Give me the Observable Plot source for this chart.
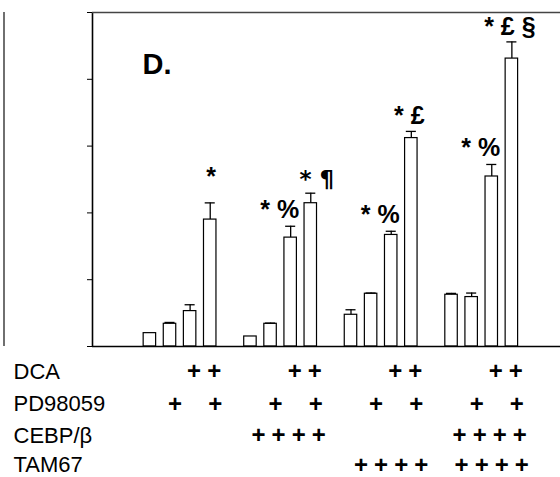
<!DOCTYPE html>
<html><head><meta charset="utf-8">
<script src="https://cdn.jsdelivr.net/npm/d3@7"></script>
<script src="https://cdn.jsdelivr.net/npm/@observablehq/plot@0.6"></script>
<style>
html,body{margin:0;padding:0;background:#fff;}
</style>
</head><body><div id="chart"></div>
<script>
// ---- data ----
const groups = ["Control", "CEBP/β", "TAM67", "CEBP/β + TAM67"];
const conditions = ["None", "PD98059", "DCA", "DCA + PD98059"];
const values = [
  0.20, 0.34, 0.53, 1.90,
  0.15, 0.34, 1.63, 2.145,
  0.475, 0.79, 1.67, 3.12,
  0.775, 0.74, 2.545, 4.31
];
const errors = [
  0.00, 0.02, 0.095, 0.25,
  0.00, 0.01, 0.17, 0.15,
  0.075, 0.01, 0.055, 0.10,
  0.02, 0.06, 0.18, 0.25
];
const annotations = [
  "", "", "", "*",
  "", "", "* %", "* ¶",
  "", "", "* %", "* £",
  "", "", "* %", "* £ §"
];
const rowLabels = ["DCA", "PD98059", "CEBP/β", "TAM67"];
const rowPlus = [
  [0,0,1,1, 0,0,1,1, 0,0,1,1, 0,0,1,1],
  [0,1,0,1, 0,1,0,1, 0,1,0,1, 0,1,0,1],
  [0,0,0,0, 1,1,1,1, 0,0,0,0, 1,1,1,1],
  [0,0,0,0, 0,0,0,0, 1,1,1,1, 1,1,1,1]
];
const yTicks = [0, 1, 2, 3, 4, 5];
const panelLabel = "D.";

// ---- table for the library ----
const perGroup = conditions.length;
const data = values.map((v, i) => ({
  group: groups[Math.floor(i / perGroup)],
  condition: conditions[i % perGroup],
  slot: Math.floor(i / perGroup) * (perGroup + 1) + (i % perGroup),
  value: v,
  err: errors[i],
  note: annotations[i],
  index: i
}));
const withErr = data.filter(d => d.err > 0);
const xDomain = [-2.854, 20.418];
const font = "Liberation Sans, Arial, Helvetica, sans-serif";

const rowDy = [25, 57.5, 89, 118.5];
const plusDx = [4, 5, 8, 10];
const noteStyle = {lineAnchor: "bottom", fontSize: 25, fontWeight: "bold", fontFamily: font, ariaLabel: "stretch-note"};

const marks = [
  Plot.rect(data, {
    x1: d => d.slot - 0.31, x2: d => d.slot + 0.31,
    y1: 0, y2: "value",
    fill: "white", stroke: "black", strokeWidth: 1.2
  }),
  Plot.ruleX(withErr, {x: "slot", y1: "value", y2: d => d.value + d.err, stroke: "black", strokeWidth: 1.3}),
  Plot.ruleY(withErr, {x1: d => d.slot - 0.25, x2: d => d.slot + 0.25, y: d => d.value + d.err, stroke: "black", strokeWidth: 1.3}),
  // frame lines
  Plot.ruleX([xDomain[0]], {stroke: "black", strokeWidth: 1.6}),
  Plot.ruleX([xDomain[0]], {stroke: "#333", strokeWidth: 1.4, dx: -88.5}),
  Plot.ruleY([yTicks[0]], {stroke: "black", strokeWidth: 1.4}),
  Plot.ruleY([yTicks[yTicks.length - 1]], {stroke: "#444", strokeWidth: 1.4}),
  // significance annotations
  Plot.text(data.filter(d => d.note === "*"), {x: "slot", y: d => d.value + d.err, text: "note", dx: 1, dy: -18, ...noteStyle}),
  Plot.text(data.filter(d => d.note.includes("%")), {x: "slot", y: d => d.value + d.err, text: "note", dx: -11, dy: -8, ...noteStyle}),
  Plot.text(data.filter(d => d.note.includes("£")), {x: "slot", y: d => d.value + d.err, text: "note", dx: -2, dy: -7, ...noteStyle}),
  Plot.text(data.filter(d => d.note.includes("¶")), {x: "slot", y: d => d.value + d.err, text: "note", dx: 6, dy: -6, ...noteStyle, fontFamily: "DejaVu Sans, " + font, fontSize: 23}),
  // panel label
  Plot.text([panelLabel], {
    text: d => d, frameAnchor: "top-left", textAnchor: "start", lineAnchor: "bottom",
    dx: 50, dy: 61, fontSize: 29, fontWeight: "bold", fontFamily: font, ariaLabel: "stretch-label"
  })
];

rowLabels.forEach((label, r) => {
  marks.push(Plot.text([label], {
    text: d => d, frameAnchor: "bottom-left", textAnchor: "start", lineAnchor: "middle",
    dx: -79, dy: rowDy[r], fontSize: 22, fontFamily: font, ariaLabel: "stretch-row"
  }));
  marks.push(Plot.text(data.filter(d => rowPlus[r][d.index]), {
    x: "slot", text: () => "+", frameAnchor: "bottom", lineAnchor: "middle",
    dx: plusDx[r], dy: rowDy[r], fontSize: 24, fontWeight: "bold", fontFamily: font
  }));
});

const chart = Plot.plot({
  width: 560,
  height: 477,
  marginLeft: 92,
  marginRight: 0,
  marginTop: 12,
  marginBottom: 131,
  style: {fontFamily: font, background: "white", color: "black"},
  x: {domain: xDomain, axis: null},
  y: {domain: [yTicks[0], yTicks[yTicks.length - 1]], ticks: yTicks, tickSize: 5, tickFormat: () => "", label: null},
  marks
});

// horizontal stretch of the label glyphs, as in the scanned figure
function stretch(sel, s) {
  chart.querySelectorAll(sel).forEach(t => {
    const tr = t.getAttribute("transform");
    if (tr) t.setAttribute("transform", tr + ` scale(${s},1)`);
    else {
      const x = +(t.getAttribute("x") || 0);
      t.setAttribute("x", x / s);
      t.setAttribute("transform", `scale(${s},1)`);
    }
  });
}
stretch('[aria-label="stretch-row"] text', 1.2);
stretch('[aria-label="stretch-label"] text', 1.2);
stretch('[aria-label="stretch-note"] text', 1.08);

document.getElementById("chart").append(chart);
</script>
</body></html>
